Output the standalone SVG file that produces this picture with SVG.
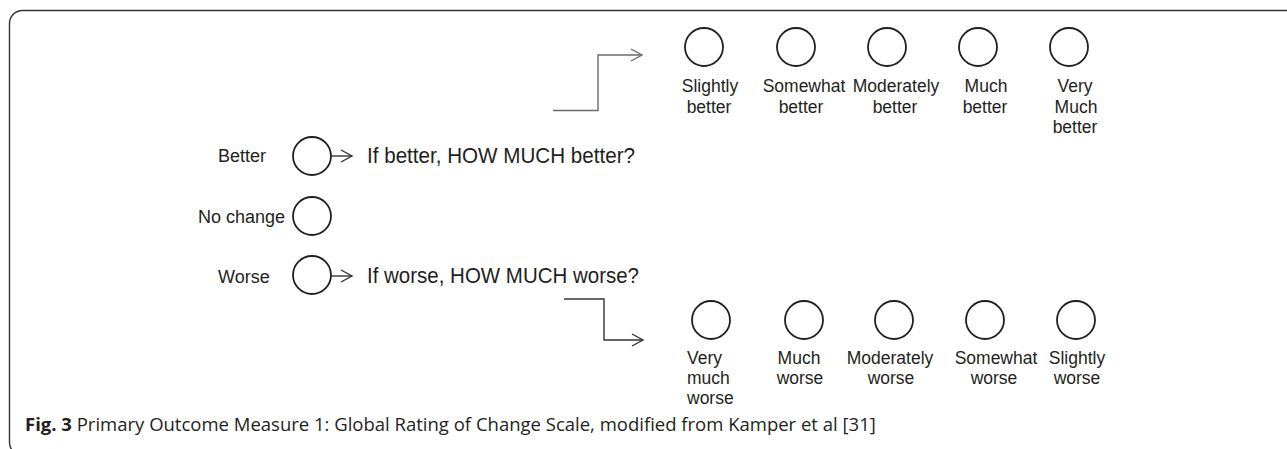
<svg xmlns="http://www.w3.org/2000/svg" width="1287" height="449" viewBox="0 0 1287 449">
<style>
.opt{fill:none;stroke:#231f20;stroke-width:1.8}
.t{font-family:"Liberation Sans",Arial,sans-serif;fill:#231f20}
.lab{font-size:18px}
.q{font-size:21.5px}
.o{font-size:17.5px;text-anchor:middle}
.ol{font-size:17.5px}
.c{fill:none;stroke-width:1.4}
.cap{font-family:"Open Sans","Noto Sans",sans-serif;font-size:18.5px;fill:#231f20}
</style>
<defs>
<marker id="ahg" markerUnits="userSpaceOnUse" markerWidth="14" markerHeight="14" viewBox="0 0 14 14" refX="12" refY="7" orient="auto">
<path d="M1,1 L12,7 L1,13" fill="none" stroke="#6b6b6b" stroke-width="1.4"/>
</marker>
<marker id="ahd" markerUnits="userSpaceOnUse" markerWidth="14" markerHeight="14" viewBox="0 0 14 14" refX="12" refY="7" orient="auto">
<path d="M1,1 L12,7 L1,13" fill="none" stroke="#333" stroke-width="1.4"/>
</marker>
</defs>
<rect x="9.5" y="10.5" width="1300" height="445" rx="13" fill="none" stroke="#333" stroke-width="1.4"/>

<g id="better">
<text class="t lab" x="218" y="162">Better</text>
<circle class="opt" cx="312" cy="156" r="19"/>
<text class="t q" x="367" y="163" textLength="268" lengthAdjust="spacingAndGlyphs">If better, HOW MUCH better?</text>
</g>
<g id="nochange">
<text class="t lab" x="198" y="223">No change</text>
<circle class="opt" cx="312" cy="216" r="19"/>
</g>
<g id="worse">
<text class="t lab" x="218" y="283">Worse</text>
<circle class="opt" cx="312" cy="275" r="19"/>
<text class="t q" x="367" y="283" textLength="272" lengthAdjust="spacingAndGlyphs">If worse, HOW MUCH worse?</text>
</g>

<g id="b1"><circle class="opt" cx="704" cy="47" r="19"/><text class="t o" y="92"><tspan x="710">Slightly</tspan><tspan x="709" dy="20.5">better</tspan></text></g>
<g id="b2"><circle class="opt" cx="796" cy="47" r="19"/><text class="t o" y="92"><tspan x="804">Somewhat</tspan><tspan x="801" dy="20.5">better</tspan></text></g>
<g id="b3"><circle class="opt" cx="887" cy="47" r="19"/><text class="t o" y="92"><tspan x="896">Moderately</tspan><tspan x="895" dy="20.5">better</tspan></text></g>
<g id="b4"><circle class="opt" cx="978" cy="47" r="19"/><text class="t o" y="92"><tspan x="986">Much</tspan><tspan x="985" dy="20.5">better</tspan></text></g>
<g id="b5"><circle class="opt" cx="1069" cy="47" r="19"/><text class="t o" y="92"><tspan x="1075">Very</tspan><tspan x="1076" dy="20.5">Much</tspan><tspan x="1075" dy="20.5">better</tspan></text></g>

<g id="w1"><circle class="opt" cx="711" cy="320" r="19"/><text class="t ol" y="364"><tspan x="687">Very</tspan><tspan x="687" dy="20">much</tspan><tspan x="687" dy="20">worse</tspan></text></g>
<g id="w2"><circle class="opt" cx="804" cy="320" r="19"/><text class="t o" y="364"><tspan x="799">Much</tspan><tspan x="800" dy="20">worse</tspan></text></g>
<g id="w3"><circle class="opt" cx="894" cy="320" r="19"/><text class="t o" y="364"><tspan x="890">Moderately</tspan><tspan x="891" dy="20">worse</tspan></text></g>
<g id="w4"><circle class="opt" cx="985" cy="320" r="19"/><text class="t o" y="364"><tspan x="996">Somewhat</tspan><tspan x="994" dy="20">worse</tspan></text></g>
<g id="w5"><circle class="opt" cx="1076" cy="320" r="19"/><text class="t o" y="364"><tspan x="1077">Slightly</tspan><tspan x="1077" dy="20">worse</tspan></text></g>

<g id="connectors">
<path class="c" d="M331,156 H352" stroke="#333" marker-end="url(#ahd)"/>
<path class="c" d="M331,276 H352" stroke="#333" marker-end="url(#ahd)"/>
<path class="c" d="M553,110.5 H598 V55 H642" stroke="#6b6b6b" marker-end="url(#ahg)"/>
<path class="c" d="M564,299 H604 V340 H643" stroke="#333" marker-end="url(#ahd)"/>
</g>

<text class="cap" x="25" y="431"><tspan font-weight="bold">Fig. 3</tspan> Primary Outcome Measure 1: Global Rating of Change Scale, modified from Kamper et al [31]</text>
</svg>
